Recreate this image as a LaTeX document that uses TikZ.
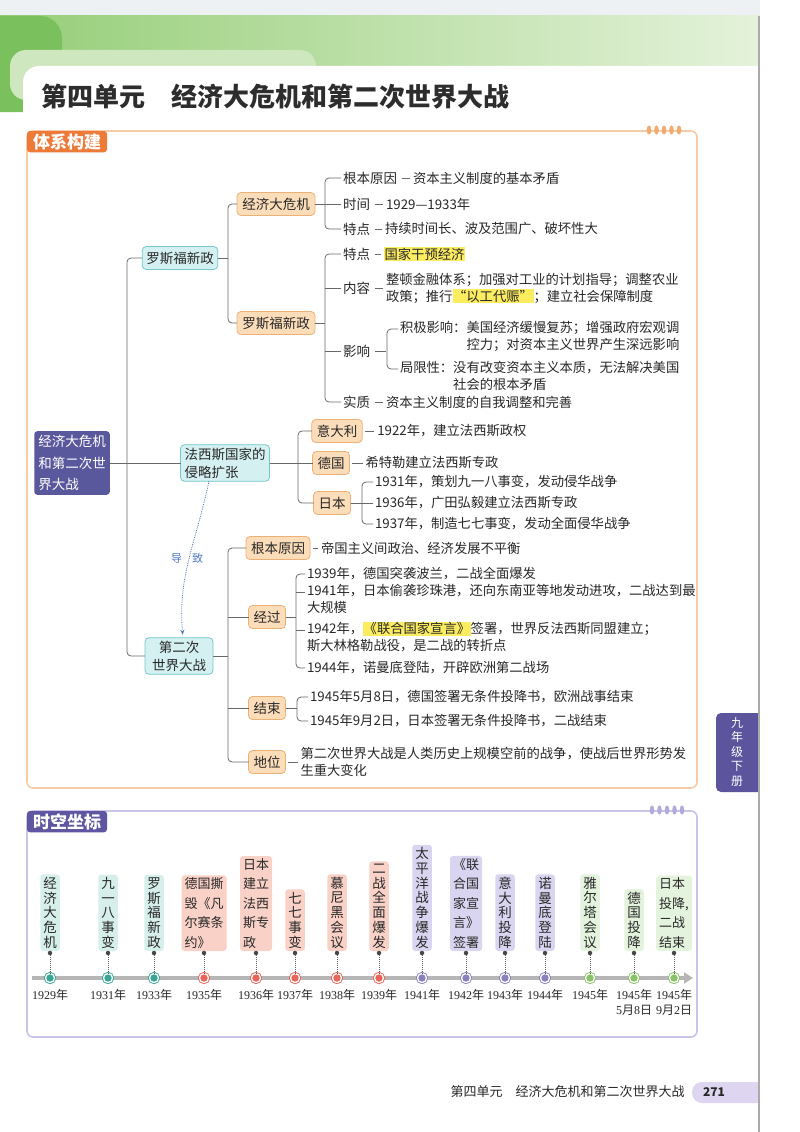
\documentclass[tikz,border=0pt]{standalone}
\usepackage{fontspec}
\setmainfont{Noto Sans CJK SC}
\newfontfamily\yrfont{Liberation Serif}
\usetikzlibrary{arrows.meta,positioning}

\definecolor{inkgray}{RGB}{40,40,40}
\definecolor{linegray}{RGB}{105,105,105}
\definecolor{titlegray}{RGB}{45,45,45}
\definecolor{topgray}{RGB}{238,241,244}
\definecolor{bandgreen}{RGB}{150,206,120}
\definecolor{bandpale}{RGB}{228,242,218}
\definecolor{blobgreen}{RGB}{122,192,92}
\definecolor{tabgreen}{RGB}{206,231,190}
\definecolor{pagegray}{RGB}{170,170,170}
\definecolor{frameor}{RGB}{246,204,166}
\definecolor{tabor}{RGB}{238,122,58}
\definecolor{dotor}{RGB}{240,172,112}
\definecolor{framepu}{RGB}{203,196,232}
\definecolor{tabpu}{RGB}{94,86,160}
\definecolor{dotpu}{RGB}{178,170,220}
\definecolor{sidepu}{RGB}{92,84,156}
\definecolor{pillpu}{RGB}{222,214,240}
\definecolor{rootpu}{RGB}{90,88,156}
\definecolor{tealfill}{RGB}{212,240,240}
\definecolor{tealline}{RGB}{118,200,202}
\definecolor{orfill}{RGB}{252,221,186}
\definecolor{orline}{RGB}{238,176,118}
\definecolor{hlyellow}{RGB}{252,236,96}
\definecolor{arrowblue}{RGB}{78,118,190}
\definecolor{axisgray}{RGB}{182,182,182}
\definecolor{tlteal}{RGB}{214,239,235}
\definecolor{rteal}{RGB}{56,166,150}
\definecolor{tlpink}{RGB}{249,209,199}
\definecolor{rpink}{RGB}{234,100,88}
\definecolor{tllav}{RGB}{217,212,239}
\definecolor{rlav}{RGB}{138,128,190}
\definecolor{tlgreen}{RGB}{227,243,221}
\definecolor{rgreen}{RGB}{138,194,104}

\newcommand\hlt[1]{{\setlength{\fboxsep}{0.6pt}\colorbox{hlyellow}{#1}}}
\newcommand\yr[1]{{\yrfont #1}年}

\begin{document}
\begin{tikzpicture}[x=1pt,y=-1pt,
  every node/.style={outer sep=0pt, text=inkgray},
  rootbox/.style={fill=rootpu, text=white, rounded corners=3pt, align=left, inner sep=4pt, font=\fontsize{13.5}{21.5}\selectfont},
  tealbox/.style={fill=tealfill, draw=tealline, line width=0.8pt, rounded corners=4pt, inner xsep=4pt, inner ysep=3pt, minimum height=23pt, font=\fontsize{13.5}{18}\selectfont},
  orbox/.style={fill=orfill, draw=orline, line width=0.8pt, rounded corners=4pt, inner xsep=5pt, inner ysep=3pt, minimum height=23pt, font=\fontsize{13.5}{16}\selectfont},
  lbl/.style={anchor=west, inner sep=2pt, font=\fontsize{13.5}{16}\selectfont},
  txt/.style={anchor=west, inner sep=2pt, align=left, font=\fontsize{13.3}{17}\selectfont},
  link/.style={draw=linegray, line width=0.8pt, rounded corners=4pt},
  tie/.style={link, shorten <=2.5pt, shorten >=1pt},
  lead/.style={draw=arrowblue, densely dotted, line width=0.8pt, -{Stealth[length=5pt,width=4pt]}, shorten >=3pt},
  tabbox/.style={fill=#1, text=white, rounded corners=3pt, anchor=north west, inner xsep=6pt, inner ysep=2.5pt, font=\fontsize{17}{19}\selectfont\bfseries},
  tl/.style={anchor=south, rounded corners=3pt, align=center, inner xsep=3pt, inner ysep=2.5pt, font=\fontsize{13.5}{14.8}\selectfont},
  tlw/.style={tl, font=\fontsize{13}{19.5}\selectfont},
  knob/.style={circle, fill=inkgray!85, inner sep=0pt, minimum size=4.5pt},
  ring/.style={circle, draw=#1, double=white, double distance=1.3pt, fill=#1, line width=0.9pt, inner sep=0pt, minimum size=9pt},
  dots/.style={draw=inkgray!75, densely dotted, line width=1pt},
  year/.style={anchor=north, inner sep=0pt, align=center, font=\fontsize{12}{15}\selectfont},
  timeaxis/.style={draw=axisgray, line width=3.5pt, -{Triangle[length=9pt,width=11pt]}}
]
% page and header
\useasboundingbox (0,0) rectangle (800,1132);
\fill[white] (0,0) rectangle (800,1132);
\fill[topgray] (0,0) rectangle (760,16);
\shade[left color=bandgreen, right color=bandpale] (0,16) rectangle (760,68);
\fill[blobgreen, rounded corners=22pt] (-30,16) rectangle (62,112);
\fill[tabgreen, rounded corners=16pt] (10,50) rectangle (316,100);
\fill[white, rounded corners=16pt] (23,66) rectangle (800,1160);
\node[anchor=west, text=titlegray, font=\fontsize{26}{30}\selectfont\bfseries] (title) at (38,97) {第四单元\hspace{1em}经济大危机和第二次世界大战};

% section frames
\draw[frameor, line width=1.6pt, rounded corners=6pt] (27,131) rectangle (697,788);
\fill[dotor] (649,130) ellipse (2.3 and 4.6) (656.5,130) ellipse (2.3 and 4.6) (664,130) ellipse (2.3 and 4.6) (671.5,130) ellipse (2.3 and 4.6) (679,130) ellipse (2.3 and 4.6);
\node[tabbox=tabor] (maphead) at (27,131) {体系构建};
\draw[framepu, line width=1.6pt, rounded corners=6pt] (27,811) rectangle (697,1037);
\fill[dotpu] (652,810) ellipse (2.3 and 4.6) (659.5,810) ellipse (2.3 and 4.6) (667,810) ellipse (2.3 and 4.6) (674.5,810) ellipse (2.3 and 4.6) (682,810) ellipse (2.3 and 4.6);
\node[tabbox=tabpu] (tlhead) at (27,811) {时空坐标};

% mind map: trunk
\node[rootbox] (root) at (72,463) {经济大危机\\和第二次世\\界大战};
\node[tealbox] (newdeal) at (180,258) {罗斯福新政};
\node[tealbox, align=left] (fascist) at (225,463) {法西斯国家的\\侵略扩张};
\node[tealbox, align=center, minimum width=68pt] (ww2) at (179,656) {第二次\\世界大战};
\coordinate (tk) at (127,463);
\draw[link] (root.east) -- (fascist.west);
\draw[link] (newdeal.west) -| (tk) |- (ww2.west);

% new deal branch
\node[orbox, minimum width=78pt] (crisis) at (276,204) {经济大危机};
\node[orbox, minimum width=78pt] (deal) at (276,323) {罗斯福新政};
\coordinate (ndb) at (228,258);
\draw[link] (newdeal.east) -- (ndb);
\draw[link] (crisis.west) -| (ndb) |- (deal.west);

\node[lbl] (cr1) at (341,178) {根本原因};
\node[lbl] (cr2) at (341,204) {时间};
\node[lbl] (cr3) at (341,229) {特点};
\node[txt, right=12pt of cr1] (cr1t) {资本主义制度的基本矛盾};
\node[txt, right=12pt of cr2] (cr2t) {1929—1933年};
\node[txt, right=11pt of cr3] (cr3t) {持续时间长、波及范围广、破坏性大};
\coordinate (crb) at (325,204);
\draw[link] (crisis.east) -- (crb);
\draw[link] (cr1.west) -| (crb) |- (cr3.west);
\draw[link] (cr2.west) -- (crb);
\draw[tie] (cr1) -- (cr1t); \draw[tie] (cr2) -- (cr2t); \draw[tie] (cr3) -- (cr3t);

\node[lbl] (nd1) at (341,254) {特点};
\node[lbl] (nd2) at (341,288) {内容};
\node[lbl] (nd3) at (341,351) {影响};
\node[lbl] (nd4) at (341,402) {实质};
\node[txt, right=10pt of nd1] (nd1t) {\hlt{国家干预经济}};
\node[txt, right=12pt of nd2] (nd2t) {整顿金融体系；加强对工业的计划指导；调整农业\\政策；推行\hlt{“以工代赈”}；建立社会保障制度};
\node[txt, right=12pt of nd4] (nd4t) {资本主义制度的自我调整和完善};
\coordinate (dlb) at (325,323);
\draw[link] (deal.east) -- (dlb);
\draw[link] (nd1.west) -| (dlb) |- (nd4.west);
\draw[link] (nd2.west) -- (nd2.west -| dlb);
\draw[link] (nd3.west) -- (nd3.west -| dlb);
\draw[tie] (nd1) -- (nd1t); \draw[tie] (nd2) -- (nd2t); \draw[tie] (nd4) -- (nd4t);

\node[txt, anchor=north west] (im1) at (398,319) {积极影响：美国经济缓慢复苏；增强政府宏观调\\\phantom{积极影响：}控力；对资本主义世界产生深远影响};
\node[txt, anchor=north west] (im2) at (398,359) {局限性：没有改变资本主义本质，无法解决美国\\\phantom{局限性：}社会的根本矛盾};
\coordinate (imb) at (387,351);
\draw[tie] (nd3.east) -- (imb);
\draw[link] ([yshift=-10pt]im1.north west) -| (imb) |- ([yshift=-10pt]im2.north west);

% fascist branch
\node[orbox] (italy) at (337,431) {意大利};
\node[orbox] (germany) at (331,463) {德国};
\node[orbox] (japan) at (332,503) {日本};
\coordinate (fab) at (298,463);
\draw[link] (fascist.east) -- (germany.west);
\draw[link] (italy.west) -| (fab) |- (japan.west);
\node[txt, right=13pt of italy] (itt) {1922年，建立法西斯政权};
\node[txt, right=14pt of germany] (det) {希特勒建立法西斯专政};
\draw[tie] (italy) -- (itt); \draw[tie] (germany) -- (det);
\node[txt] (jp1) at (373,482) {1931年，策划九一八事变，发动侵华战争};
\node[txt] (jp2) at (373,503) {1936年，广田弘毅建立法西斯专政};
\node[txt] (jp3) at (373,524) {1937年，制造七七事变，发动全面侵华战争};
\coordinate (jpb) at (362,503);
\draw[link] (japan.east) -- (jpb);
\draw[link] (jp1.west) -| (jpb) |- (jp3.west);
\draw[link] (jp2.west) -- (jpb);

% world war branch
\node[orbox] (cause) at (278,548) {根本原因};
\node[orbox] (course) at (267,617) {经过};
\node[orbox] (ending) at (267,708) {结束};
\node[orbox] (status) at (267,762) {地位};
\coordinate (wwb) at (228,656);
\draw[link] (ww2.east) -- (wwb);
\draw[link] (cause.west) -| (wwb) |- (status.west);
\draw[link] (course.west) -- (course.west -| wwb);
\draw[link] (ending.west) -- (ending.west -| wwb);
\node[txt, right=9pt of cause] (cat) {帝国主义间政治、经济发展不平衡};
\node[txt, right=13pt of status] (stt) {第二次世界大战是人类历史上规模空前的战争，使战后世界形势发\\生重大变化};
\draw[tie] (cause) -- (cat); \draw[tie] (status) -- (stt);

\node[txt] (cs1) at (305,574) {1939年，德国突袭波兰，二战全面爆发};
\node[txt, anchor=north west] (cs2) at (305,582) {1941年，日本偷袭珍珠港，还向东南亚等地发动进攻，二战达到最\\大规模};
\node[txt, anchor=north west] (cs3) at (305,620) {1942年，\hlt{《联合国家宣言》}签署，世界反法西斯同盟建立；\\斯大林格勒战役，是二战的转折点};
\node[txt] (cs4) at (305,668) {1944年，诺曼底登陆，开辟欧洲第二战场};
\coordinate (csb) at (296,617);
\coordinate (cs2a) at ([yshift=-10pt]cs2.north west);
\coordinate (cs3a) at ([yshift=-10pt]cs3.north west);
\draw[link] (course.east) -- (csb);
\draw[link] (cs1.west) -| (csb) |- (cs4.west);
\draw[link] (cs2a -| csb) -- (cs2a);
\draw[link] (cs3a -| csb) -- (cs3a);

\node[txt] (en1) at (308,697) {1945年5月8日，德国签署无条件投降书，欧洲战事结束};
\node[txt] (en2) at (308,721) {1945年9月2日，日本签署无条件投降书，二战结束};
\coordinate (enb) at (297,708);
\draw[link] (ending.east) -- (enb);
\draw[link] (en1.west) -| (enb) |- (en2.west);

% leads to
\draw[lead] ([xshift=-16pt]fascist.south) to[out=258,in=95] ([xshift=4pt]ww2.north);
\node[text=arrowblue, font=\fontsize{11}{12}\selectfont] (leadto) at (187,558) {导\hspace{10pt}致};

% timeline
\coordinate (axs) at (32,978);
\coordinate (axe) at (693,978);
\draw[timeaxis] (axs) -- (axe);

\node[tl, fill=tlteal] (ev1) at (50,951) {经\\济\\大\\危\\机};
\node[knob] (kn1) at (50,953) {}; \node[ring=rteal] (rg1) at (50,978) {}; \draw[dots] (kn1) -- (rg1); \node[year] (yr1) at (50,989) {\yr{1929}};
\node[tl, fill=tlteal] (ev2) at (108,951) {九\\一\\八\\事\\变};
\node[knob] (kn2) at (108,953) {}; \node[ring=rteal] (rg2) at (108,978) {}; \draw[dots] (kn2) -- (rg2); \node[year] (yr2) at (108,989) {\yr{1931}};
\node[tl, fill=tlteal] (ev3) at (154,951) {罗\\斯\\福\\新\\政};
\node[knob] (kn3) at (154,953) {}; \node[ring=rteal] (rg3) at (154,978) {}; \draw[dots] (kn3) -- (rg3); \node[year] (yr3) at (154,989) {\yr{1933}};
\node[tlw, fill=tlpink, align=left] (ev4) at (204,951) {德国撕\\毁《凡\\尔赛条\\约》};
\node[knob] (kn4) at (204,953) {}; \node[ring=rpink] (rg4) at (204,978) {}; \draw[dots] (kn4) -- (rg4); \node[year] (yr4) at (204,989) {\yr{1935}};
\node[tlw, fill=tlpink, align=left] (ev5) at (256,951) {日本\\建立\\法西\\斯专\\政};
\node[knob] (kn5) at (256,953) {}; \node[ring=rpink] (rg5) at (256,978) {}; \draw[dots] (kn5) -- (rg5); \node[year] (yr5) at (256,989) {\yr{1936}};
\node[tl, fill=tlpink] (ev6) at (295,951) {七\\七\\事\\变};
\node[knob] (kn6) at (295,953) {}; \node[ring=rpink] (rg6) at (295,978) {}; \draw[dots] (kn6) -- (rg6); \node[year] (yr6) at (295,989) {\yr{1937}};
\node[tl, fill=tlpink] (ev7) at (337,951) {慕\\尼\\黑\\会\\议};
\node[knob] (kn7) at (337,953) {}; \node[ring=rpink] (rg7) at (337,978) {}; \draw[dots] (kn7) -- (rg7); \node[year] (yr7) at (337,989) {\yr{1938}};
\node[tl, fill=tlpink] (ev8) at (379,951) {二\\战\\全\\面\\爆\\发};
\node[knob] (kn8) at (379,953) {}; \node[ring=rpink] (rg8) at (379,978) {}; \draw[dots] (kn8) -- (rg8); \node[year] (yr8) at (379,989) {\yr{1939}};
\node[tl, fill=tllav] (ev9) at (422,951) {太\\平\\洋\\战\\争\\爆\\发};
\node[knob] (kn9) at (422,953) {}; \node[ring=rlav] (rg9) at (422,978) {}; \draw[dots] (kn9) -- (rg9); \node[year] (yr9) at (422,989) {\yr{1941}};
\node[tlw, fill=tllav] (ev10) at (466,951) {《联\\合国\\家宣\\言》\\签署};
\node[knob] (kn10) at (466,953) {}; \node[ring=rlav] (rg10) at (466,978) {}; \draw[dots] (kn10) -- (rg10); \node[year] (yr10) at (466,989) {\yr{1942}};
\node[tl, fill=tllav] (ev11) at (505,951) {意\\大\\利\\投\\降};
\node[knob] (kn11) at (505,953) {}; \node[ring=rlav] (rg11) at (505,978) {}; \draw[dots] (kn11) -- (rg11); \node[year] (yr11) at (505,989) {\yr{1943}};
\node[tl, fill=tllav] (ev12) at (545,951) {诺\\曼\\底\\登\\陆};
\node[knob] (kn12) at (545,953) {}; \node[ring=rlav] (rg12) at (545,978) {}; \draw[dots] (kn12) -- (rg12); \node[year] (yr12) at (545,989) {\yr{1944}};
\node[tl, fill=tlgreen] (ev13) at (590,951) {雅\\尔\\塔\\会\\议};
\node[knob] (kn13) at (590,953) {}; \node[ring=rgreen] (rg13) at (590,978) {}; \draw[dots] (kn13) -- (rg13); \node[year] (yr13) at (590,989) {\yr{1945}};
\node[tl, fill=tlgreen] (ev14) at (634,951) {德\\国\\投\\降};
\node[knob] (kn14) at (634,953) {}; \node[ring=rgreen] (rg14) at (634,978) {}; \draw[dots] (kn14) -- (rg14); \node[year] (yr14) at (634,989) {\yr{1945}\\{\yrfont 5}月{\yrfont 8}日};
\node[tlw, fill=tlgreen, align=left] (ev15) at (674,951) {日本\\投降,\\二战\\结束};
\node[knob] (kn15) at (674,953) {}; \node[ring=rgreen] (rg15) at (674,978) {}; \draw[dots] (kn15) -- (rg15); \node[year] (yr15) at (674,989) {\yr{1945}\\{\yrfont 9}月{\yrfont 2}日};

% side tab, page edge, footer
\fill[sidepu, rounded corners=5pt] (716,713) rectangle (775,792);
\fill[pillpu, rounded corners=10pt] (692,1082) rectangle (790,1103);
\fill[white] (760,0) rectangle (800,1132);
\draw[pagegray, line width=2.5pt] (759,16) -- (759,1132);
\node[text=white, align=center, font=\fontsize{12}{14.5}\selectfont] (grade) at (737,752) {九\\年\\级\\下\\册};
\node[anchor=east, font=\fontsize{13}{15}\selectfont] (foot) at (688,1092) {第四单元\hspace{1em}经济大危机和第二次世界大战};
\node[font=\fontsize{12}{14}\selectfont\bfseries] (pageno) at (714,1092) {271};
\end{tikzpicture}
\end{document}
